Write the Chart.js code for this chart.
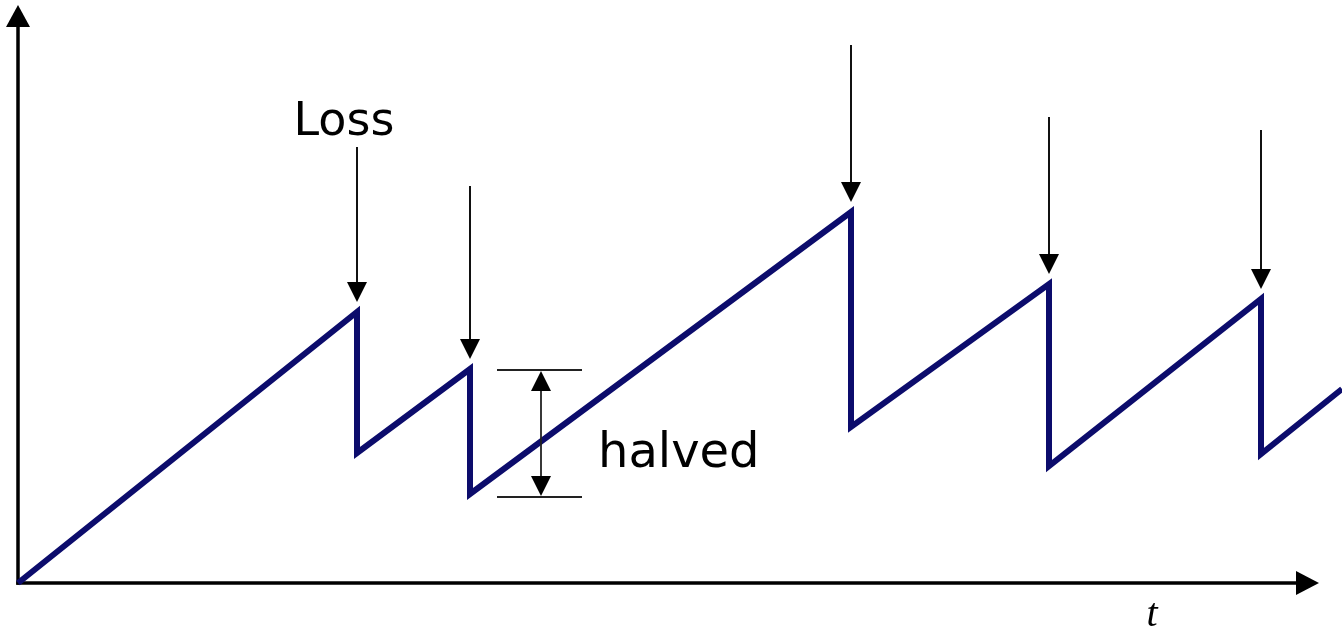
<!DOCTYPE html>
<html>
<head>
<meta charset="utf-8">
<script src="https://cdn.jsdelivr.net/npm/chart.js@4"></script>
<style>
  html, body { margin: 0; padding: 0; background: #fff; overflow: hidden; }
  #cwnd { display: block; }
</style>
</head>
<body>
<canvas id="cwnd" width="1342" height="631"></canvas>
<script>
// congestion window sawtooth (time, window)
const times = [0, 33.9, 33.9, 45.2, 45.2, 83.3, 83.3, 103.1, 103.1, 124.3, 124.3, 132.4];
const windowSize = [0, 27.1, 13.0, 21.4, 8.9, 37.1, 15.6, 29.9, 11.7, 28.4, 12.9, 19.4];

// loss events: where the arrow points and where its shaft starts
const lossTimes = [33.9, 45.2, 83.3, 103.1, 124.3];
const lossPeaks = [27.1, 21.4, 37.1, 29.9, 28.4];
const lossArrowTop = [43.6, 39.7, 53.8, 46.6, 45.3];

// "halved" marker between the second peak and the following trough
const halvedAt = 52.3;
const halvedFrom = 21.3;
const halvedTo = 8.6;
const halvedTick = [47.9, 56.4];

const lineColor = "#0c0c6c";
const labelFont = '"Comic Sans MS", "DejaVu Sans", sans-serif';

const ctxEl = document.getElementById("cwnd");

const arrowHead = (ctx, x, y, dir, w, h) => {
  // dir: "down", "up", "right"
  ctx.beginPath();
  if (dir === "down") {
    ctx.moveTo(x, y);
    ctx.lineTo(x - w / 2, y - h);
    ctx.lineTo(x + w / 2, y - h);
  } else if (dir === "up") {
    ctx.moveTo(x, y);
    ctx.lineTo(x - w / 2, y + h);
    ctx.lineTo(x + w / 2, y + h);
  } else {
    ctx.moveTo(x, y);
    ctx.lineTo(x - h, y - w / 2);
    ctx.lineTo(x - h, y + w / 2);
  }
  ctx.closePath();
  ctx.fill();
};

const axesPlugin = {
  id: "axesArrows",
  beforeDatasetsDraw(chart) {
    const { ctx, scales: { x, y } } = chart;
    const x0 = x.getPixelForValue(0);
    const y0 = y.getPixelForValue(0);
    const yTop = y.getPixelForValue(57.8);
    const xEnd = x.getPixelForValue(130.1);
    ctx.save();
    ctx.strokeStyle = "#000";
    ctx.fillStyle = "#000";
    ctx.lineWidth = 3.5;
    ctx.beginPath();
    ctx.moveTo(x0, y0 + 1.75);
    ctx.lineTo(x0, yTop + 15);
    ctx.stroke();
    ctx.beginPath();
    ctx.moveTo(x0 - 1.75, y0);
    ctx.lineTo(xEnd - 15, y0);
    ctx.stroke();
    arrowHead(ctx, x0, yTop, "up", 24, 22);
    arrowHead(ctx, xEnd, y0, "right", 24, 23);
    ctx.restore();
  }
};

const notesPlugin = {
  id: "notes",
  afterDatasetsDraw(chart) {
    const { ctx, scales: { x, y } } = chart;
    ctx.save();
    ctx.strokeStyle = "#111";
    ctx.fillStyle = "#000";

    // loss arrows
    ctx.lineWidth = 2;
    lossTimes.forEach((t, i) => {
      const px = x.getPixelForValue(t);
      const tip = y.getPixelForValue(lossPeaks[i]) - 10;
      ctx.beginPath();
      ctx.moveTo(px, y.getPixelForValue(lossArrowTop[i]));
      ctx.lineTo(px, tip - 15);
      ctx.stroke();
      arrowHead(ctx, px, tip, "down", 20, 20);
    });

    // halved marker
    const hx = x.getPixelForValue(halvedAt);
    const hTop = y.getPixelForValue(halvedFrom);
    const hBot = y.getPixelForValue(halvedTo);
    ctx.lineWidth = 1.8;
    ctx.strokeStyle = "#222";
    [hTop, hBot].forEach((py) => {
      ctx.beginPath();
      ctx.moveTo(x.getPixelForValue(halvedTick[0]), py);
      ctx.lineTo(x.getPixelForValue(halvedTick[1]), py);
      ctx.stroke();
    });
    ctx.beginPath();
    ctx.moveTo(hx, hTop + 15);
    ctx.lineTo(hx, hBot - 15);
    ctx.stroke();
    arrowHead(ctx, hx, hTop + 1, "up", 20, 20);
    arrowHead(ctx, hx, hBot - 1, "down", 20, 20);

    // labels
    ctx.fillStyle = "#000";
    ctx.textBaseline = "alphabetic";
    ctx.font = "46px " + labelFont;
    ctx.textAlign = "center";
    ctx.fillText("Loss", x.getPixelForValue(lossTimes[0]) - 13, 135);
    ctx.textAlign = "left";
    ctx.font = "48px " + labelFont;
    ctx.fillText("halved", x.getPixelForValue(58.0), 467);
    ctx.font = "italic 40px 'Liberation Serif', serif";
    ctx.textAlign = "center";
    ctx.fillText("t", x.getPixelForValue(113.4), 626);
    ctx.restore();
  }
};

new Chart(ctxEl, {
  type: "line",
  data: {
    datasets: [
      {
        data: times.map((t, i) => ({ x: t, y: windowSize[i] })),
        borderColor: lineColor,
        borderWidth: 6,
        pointRadius: 0,
        tension: 0,
        borderJoinStyle: "miter",
        fill: false,
      },
    ],
  },
  options: {
    responsive: false,
    animation: false,
    layout: { padding: 0 },
    plugins: {
      legend: { display: false },
      tooltip: { enabled: false },
    },
    scales: {
      x: { type: "linear", min: -1.8, max: 132.4, display: false },
      y: { type: "linear", min: -4.8, max: 58.3, display: false },
    },
  },
  plugins: [axesPlugin, notesPlugin],
});
</script>
</body>
</html>
